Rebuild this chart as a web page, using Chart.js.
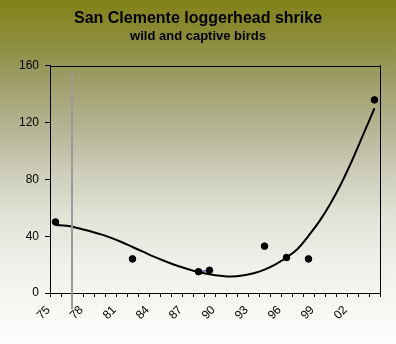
<!DOCTYPE html>
<html><head><meta charset="utf-8">
<script src="https://cdn.jsdelivr.net/npm/chart.js@4.4.1/dist/chart.umd.min.js"></script>
<style>html,body{margin:0;padding:0;background:#fff}#wrap{width:396px;height:344px;position:relative}</style>
</head><body><div id="wrap"><canvas id="c" width="396" height="344"></canvas></div>
<script>
// Categories (one per year)
const years = ['1975','1976','1977','1978','1979','1980','1981','1982','1983','1984',
               '1985','1986','1987','1988','1989','1990','1991','1992','1993','1994',
               '1995','1996','1997','1998','1999','2000','2001','2002','2003','2004'];
// Tick labels shown on the x axis
const tickLabels = ['75','78','81','84','87','90','93','96','99','02'];
// Y-axis ticks
const yTicks = [0, 40, 80, 120, 160];
// Bird counts (null = no survey)
const birds = [50,null,null,null,null,null,null,24,null,null,
               null,null,null,15,16,null,null,null,null,33,
               null,25,null,24,null,null,null,null,null,136];
// Polynomial trendline
const trend = [47.9,47.4,45.8,43.9,41.6,39.0,35.9,32.4,28.9,25.4,
               22.3,19.4,16.9,14.8,13.2,12.1,11.6,12.3,13.9,16.5,
               20.2,25.0,31.0,40.3,50.6,63.0,77.5,94.0,112.0,130.1];
// Vertical marker between these two categories
const markerBetween = ['1976','1977'];

const titleText = 'San Clemente loggerhead shrike';
const subtitleText = 'wild and captive birds';

const bgPlugin = {
  id: 'bg',
  beforeDraw(chart) {
    const {ctx, width, height} = chart;
    const g = ctx.createLinearGradient(0, 0, 0, height);
    g.addColorStop(0.00, 'rgb(130,130,24)');
    g.addColorStop(0.12, 'rgb(140,140,62)');
    g.addColorStop(0.25, 'rgb(160,160,110)');
    g.addColorStop(0.38, 'rgb(182,182,150)');
    g.addColorStop(0.50, 'rgb(205,205,186)');
    g.addColorStop(0.63, 'rgb(226,226,215)');
    g.addColorStop(0.76, 'rgb(240,240,234)');
    g.addColorStop(1.00, 'rgb(253,253,252)');
    ctx.save();
    ctx.fillStyle = g;
    ctx.fillRect(0, 0, width, height);
    ctx.restore();
  }
};

const framePlugin = {
  id: 'frame',
  afterDraw(chart) {
    const {ctx, chartArea: a, scales} = chart;
    ctx.save();
    ctx.strokeStyle = '#000';
    ctx.lineWidth = 1;
    ctx.beginPath();
    ctx.moveTo(Math.round(a.left) + 0.5, Math.round(a.top) + 0.5);
    ctx.lineTo(Math.round(a.right) + 0.5, Math.round(a.top) + 0.5);
    ctx.stroke();
    // grey marker line
    const x = scales.x;
    const i0 = years.indexOf(markerBetween[0]);
    const i1 = years.indexOf(markerBetween[1]);
    const px = (x.getPixelForValue(i0) + x.getPixelForValue(i1)) / 2;
    ctx.strokeStyle = '#9a9a9a';
    ctx.lineWidth = 2;
    ctx.beginPath();
    ctx.moveTo(px, a.top + 6);
    ctx.lineTo(px, a.bottom + 16);
    ctx.stroke();
    ctx.restore();
  }
};

Chart.defaults.font.family = '"Liberation Sans", Arial, sans-serif';
Chart.defaults.color = '#000';

new Chart(document.getElementById('c'), {
  type: 'line',
  data: {
    labels: years,
    datasets: [
      {
        label: 'birds',
        data: birds,
        borderColor: '#000080',
        borderWidth: 1,
        spanGaps: false,
        pointRadius: 3.3,
        pointStyle: 'circle',
        pointBackgroundColor: '#000',
        pointBorderColor: '#000',
        pointBorderWidth: 1,
        order: 1
      },
      {
        label: 'trend',
        data: trend,
        borderColor: '#000',
        borderWidth: 2,
        pointRadius: 0,
        tension: 0.4,
        fill: false,
        order: 2
      }
    ]
  },
  options: {
    responsive: false,
    devicePixelRatio: 1,
    animation: false,
    layout: { padding: { left: 0, right: 0, top: 0, bottom: 0 } },
    plugins: {
      legend: { display: false },
      tooltip: { enabled: false },
      title: {
        display: true, text: titleText, color: '#000',
        font: { size: 16, weight: 'bold' },
        padding: { top: 9, bottom: 0 }
      },
      subtitle: {
        display: true, text: subtitleText, color: '#000',
        font: { size: 13, weight: 'bold' },
        padding: { top: 0, bottom: 22 }
      }
    },
    scales: {
      x: {
        type: 'category',
        offset: true,
        grid: { display: true, offset: true, drawOnChartArea: false, drawTicks: true, tickLength: 4, color: '#000' },
        border: { display: true, color: '#000', width: 1 },
        ticks: {
          autoSkip: false, maxRotation: 45, minRotation: 45,
          padding: 6, labelOffset: -7,
          font: { size: 12 }, color: '#000',
          callback: function(v, i) {
            const s = years[i].slice(2);
            return tickLabels.includes(s) ? s : '';
          }
        },
        afterFit(s) { s.height = 51; }
      },
      y: {
        min: yTicks[0], max: yTicks[yTicks.length - 1],
        grid: { display: true, drawOnChartArea: false, drawTicks: true, tickLength: 5, color: '#000' },
        border: { display: true, color: '#000', width: 1 },
        ticks: {
          stepSize: yTicks[1] - yTicks[0], padding: 6,
          font: { size: 12 }, color: '#000'
        },
        afterFit(s) { s.width = 50; }
      },
      y2: {
        position: 'right',
        min: yTicks[0], max: yTicks[yTicks.length - 1],
        grid: { display: false, drawOnChartArea: false, drawTicks: false },
        border: { display: true, color: '#000', width: 1 },
        ticks: { display: false },
        afterFit(s) { s.width = 16; }
      }
    }
  },
  plugins: [bgPlugin, framePlugin]
});
</script>
</body></html>
